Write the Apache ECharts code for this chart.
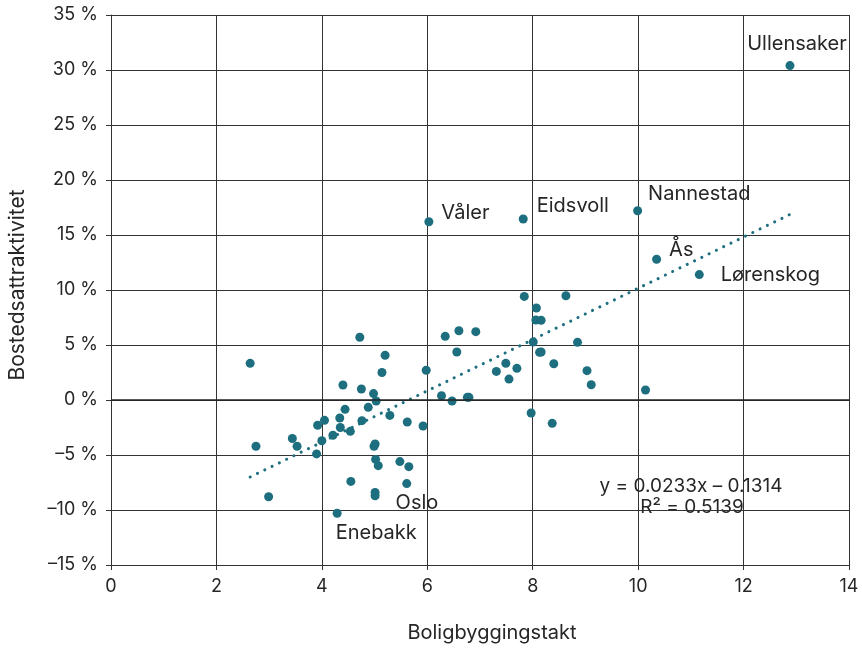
<!DOCTYPE html>
<html><head><meta charset="utf-8">
<script src="https://cdn.jsdelivr.net/npm/echarts@6/dist/echarts.min.js"></script>
<style>html,body{margin:0;padding:0;background:#fff}#c{width:862px;height:648px}</style>
</head><body><div id="c"></div>
<script>
// Boligbyggingstakt (x) and Bostedsattraktivitet in % (y)
const xVals = [12.88, 9.99, 6.03, 7.82, 10.35, 11.16, 10.14, 2.64, 2.75, 2.99, 4.29, 5.01, 5.01,
  4.72, 5.20, 5.14, 5.98, 4.40, 4.75, 4.98, 5.03, 4.44, 4.88, 4.34, 4.05, 3.92, 4.76, 5.29, 5.62, 5.92,
  4.35, 4.54, 4.21, 3.44, 3.53, 4.00, 3.90, 4.99, 5.01, 5.02, 5.07, 5.48, 5.65, 4.55, 5.61,
  7.84, 8.63, 8.07, 8.06, 8.16, 6.34, 6.60, 6.92, 8.01, 8.85, 6.56, 8.13, 8.16, 7.49, 7.31, 7.70, 7.55,
  8.40, 9.03, 9.11, 6.27, 6.47, 6.76, 6.79, 7.97, 8.37];
const yVals = [30.4, 17.2, 16.2, 16.45, 12.8, 11.4, 0.91, 3.33, -4.2, -8.8, -10.3, -8.7, -8.4,
  5.7, 4.06, 2.5, 2.7, 1.36, 1.0, 0.58, -0.09, -0.85, -0.67, -1.64, -1.85, -2.3, -1.88, -1.4, -2.0, -2.36,
  -2.5, -2.85, -3.2, -3.5, -4.2, -3.7, -4.9, -4.2, -4.0, -5.4, -5.97, -5.6, -6.06, -7.4, -7.6,
  9.42, 9.48, 8.36, 7.27, 7.24, 5.79, 6.3, 6.21, 5.27, 5.24, 4.36, 4.33, 4.36, 3.33, 2.6, 2.88, 1.9,
  3.3, 2.67, 1.39, 0.39, -0.09, 0.24, 0.24, -1.18, -2.12];
const names = ['Ullensaker', 'Nannestad', 'Våler', 'Eidsvoll', 'Ås', 'Lørenskog', '', '', '', '', 'Enebakk', 'Oslo', ''];
// Trend line endpoints (y = 0.0233x – 0.1314), in %
const trendX = [2.64, 12.88];
const trendY = [-7.0, 16.87];
const xTicks = [0, 2, 4, 6, 8, 10, 12, 14];
const yTicks = [-15, -10, -5, 0, 5, 10, 15, 20, 25, 30, 35];
const equation = 'y = 0.0233x – 0.1314';
const r2 = 'R² = 0.5139';
const xTitle = 'Boligbyggingstakt';
const yTitle = 'Bostedsattraktivitet';

const FONT = 'Inter';
const TXT = '#262626';
const labelOffsets = {
  'Ullensaker': {position: 'top', offset: [7, -2]},
  'Nannestad': {position: 'right', offset: [1, -17]},
  'Våler': {position: 'right', offset: [3, -9]},
  'Eidsvoll': {position: 'right', offset: [4, -13]},
  'Ås': {position: 'right', offset: [3, -9]},
  'Lørenskog': {position: 'right', offset: [12, 0]},
  'Oslo': {position: 'right', offset: [11, 7]},
  'Enebakk': {position: 'right', offset: [-11, 20]}
};
const pts = xVals.map((x, i) => {
  const n = names[i] || '';
  const item = {value: [x, yVals[i]], name: n};
  if (n) {
    item.label = Object.assign({show: true, formatter: n, fontSize: 20, color: TXT, fontFamily: FONT, distance: 5}, labelOffsets[n]);
  }
  return item;
});
const trend = trendX.map((x, i) => [x, trendY[i]]);
const fmtPct = v => (v < 0 ? '–' + Math.abs(v) : String(v)) + ' %';

const chart = echarts.init(document.getElementById('c'), null, {renderer: 'canvas'});
chart.setOption({
  animation: false,
  grid: {left: 111, right: 13, top: 15, bottom: 83, containLabel: false, outerBoundsMode: 'none'},
  xAxis: {
    type: 'value', min: xTicks[0], max: xTicks[xTicks.length - 1], interval: 2,
    name: xTitle, nameLocation: 'middle', nameGap: 58,
    nameTextStyle: {fontSize: 20, color: TXT, fontFamily: FONT, padding: [0, 0, 0, 24]},
    axisLine: {show: true, onZero: false, lineStyle: {color: '#333', width: 1}},
    axisTick: {show: true, inside: false, length: 5, lineStyle: {color: '#333'}},
    axisLabel: {fontSize: 18, color: TXT, fontFamily: FONT, margin: 13},
    splitLine: {show: true, lineStyle: {color: '#333', width: 1}}
  },
  yAxis: {
    type: 'value', min: yTicks[0], max: yTicks[yTicks.length - 1], interval: 5,
    name: yTitle, nameLocation: 'middle', nameGap: 83, nameRotate: 90,
    nameTextStyle: {fontSize: 21, color: TXT, fontFamily: FONT, padding: [0, 0, 0, 10]},
    axisLine: {show: true, onZero: false, lineStyle: {color: '#333', width: 1}},
    axisTick: {show: true, inside: false, length: 5, lineStyle: {color: '#333'}},
    axisLabel: {fontSize: 18, color: TXT, fontFamily: FONT, margin: 13, formatter: fmtPct},
    splitLine: {show: true, lineStyle: {color: '#333', width: 1}}
  },
  graphic: [
    {type: 'text', x: 691, y: 486, style: {text: equation, fontSize: 19, fill: TXT, fontFamily: FONT, align: 'center', verticalAlign: 'middle'}},
    {type: 'text', x: 692, y: 507, style: {text: r2, fontSize: 19, fill: TXT, fontFamily: FONT, align: 'center', verticalAlign: 'middle'}}
  ],
  series: [
    {
      type: 'line', data: trend, symbol: 'none', silent: true, z: 3,
      lineStyle: {color: '#1d6f7f', width: 3, type: [0.1, 8], cap: 'round'}
    },
    {
      type: 'scatter', data: pts, symbolSize: 9, z: 4,
      itemStyle: {color: '#1d6f7f', opacity: 1},
      markLine: {
        silent: true, symbol: 'none', label: {show: false},
        lineStyle: {color: '#222', width: 1.5, type: 'solid'},
        data: [{yAxis: 0}]
      }
    }
  ]
});
</script></body></html>
